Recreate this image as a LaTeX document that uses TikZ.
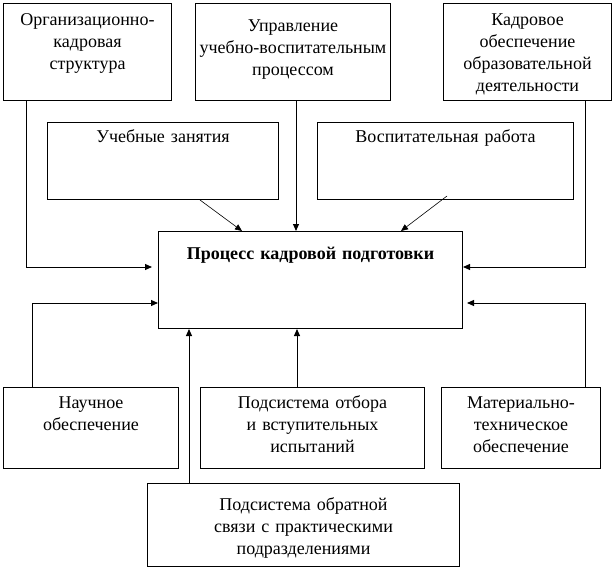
\documentclass[tikz,border=0pt]{standalone}
\usepackage{fontspec}
\setmainfont{Liberation Serif}
\usetikzlibrary{arrows.meta}

\begin{document}
\begin{tikzpicture}[
  x=1pt, y=-1pt,
  every node/.style={font=\fontsize{18}{22}\selectfont},
  box/.style={draw, line width=1pt, anchor=north west, align=center, inner xsep=2pt, inner ysep=1pt, text height=21pt},
  link/.style={line width=1pt, -{Triangle[length=7pt,width=6pt]}},
  slant/.style={line width=0.6pt, -{Triangle[length=7pt,width=6pt]}}
]
\useasboundingbox (0,0) rectangle (614,570);

% top row
\node[box, text width=164pt, text depth=74pt] (org) at (3,3) {Организационно-\\кадровая\\структура};
\node[box, text width=191pt, text height=27pt, text depth=68pt] (uprav) at (195,3) {Управление\\учебно-воспитательным\\процессом};
\node[box, text width=164pt, text depth=74pt] (kadr) at (443,3) {Кадровое\\обеспечение\\образовательной\\деятельности};
\node[box, text width=227pt, text height=19pt, text depth=56pt] (ucheb) at (47,122) {Учебные занятия};
\node[box, text width=252pt, text height=19pt, text depth=56pt] (vosp) at (317,122) {Воспитательная работа};

% centre
\node[box, text width=300pt, text height=27pt, text depth=68pt, font=\fontsize{18}{22}\selectfont\bfseries] (proc) at (158,231) {Процесс кадровой подготовки};

% bottom row
\node[box, text width=171pt, text height=20pt, text depth=59pt] (nauch) at (3,387) {Научное\\обеспечение};
\node[box, text width=220pt, text height=20pt, text depth=59pt] (otbor) at (200,387) {Подсистема отбора\\и вступительных\\испытаний};
\node[box, text width=155pt, text height=20pt, text depth=59pt] (mater) at (441,387) {Материально-\\техническое\\обеспечение};
\node[box, text width=308pt, text height=26pt, text depth=55pt] (obrat) at (147,483) {Подсистема обратной\\связи с практическими\\подразделениями};

% arrows into the centre
\draw[link] ([xshift=23pt]org.south west) |- ([xshift=-6pt,yshift=-36pt]proc.north west);
\draw[link] ([xshift=101pt]uprav.south west) -- ([xshift=138pt]proc.north west);
\draw[link] ([xshift=142pt]kadr.south west) |- ([yshift=-36pt]proc.north east);
\draw[slant] ([xshift=153pt]ucheb.south west) -- ([xshift=84pt]proc.north west);
\draw[slant] ([xshift=130pt,yshift=4pt]vosp.south west) -- ([xshift=243pt]proc.north west);
\draw[link] ([xshift=29pt]nauch.north west) |- ([yshift=-72pt]proc.north west);
\draw[link] ([xshift=144pt]mater.north west) |- ([xshift=4pt,yshift=-72pt]proc.north east);
\draw[link] ([xshift=97pt]otbor.north west) -- ([xshift=139pt]proc.south west);
\draw[link] ([xshift=42pt]obrat.north west) -- ([xshift=31pt]proc.south west);
\end{tikzpicture}
\end{document}
